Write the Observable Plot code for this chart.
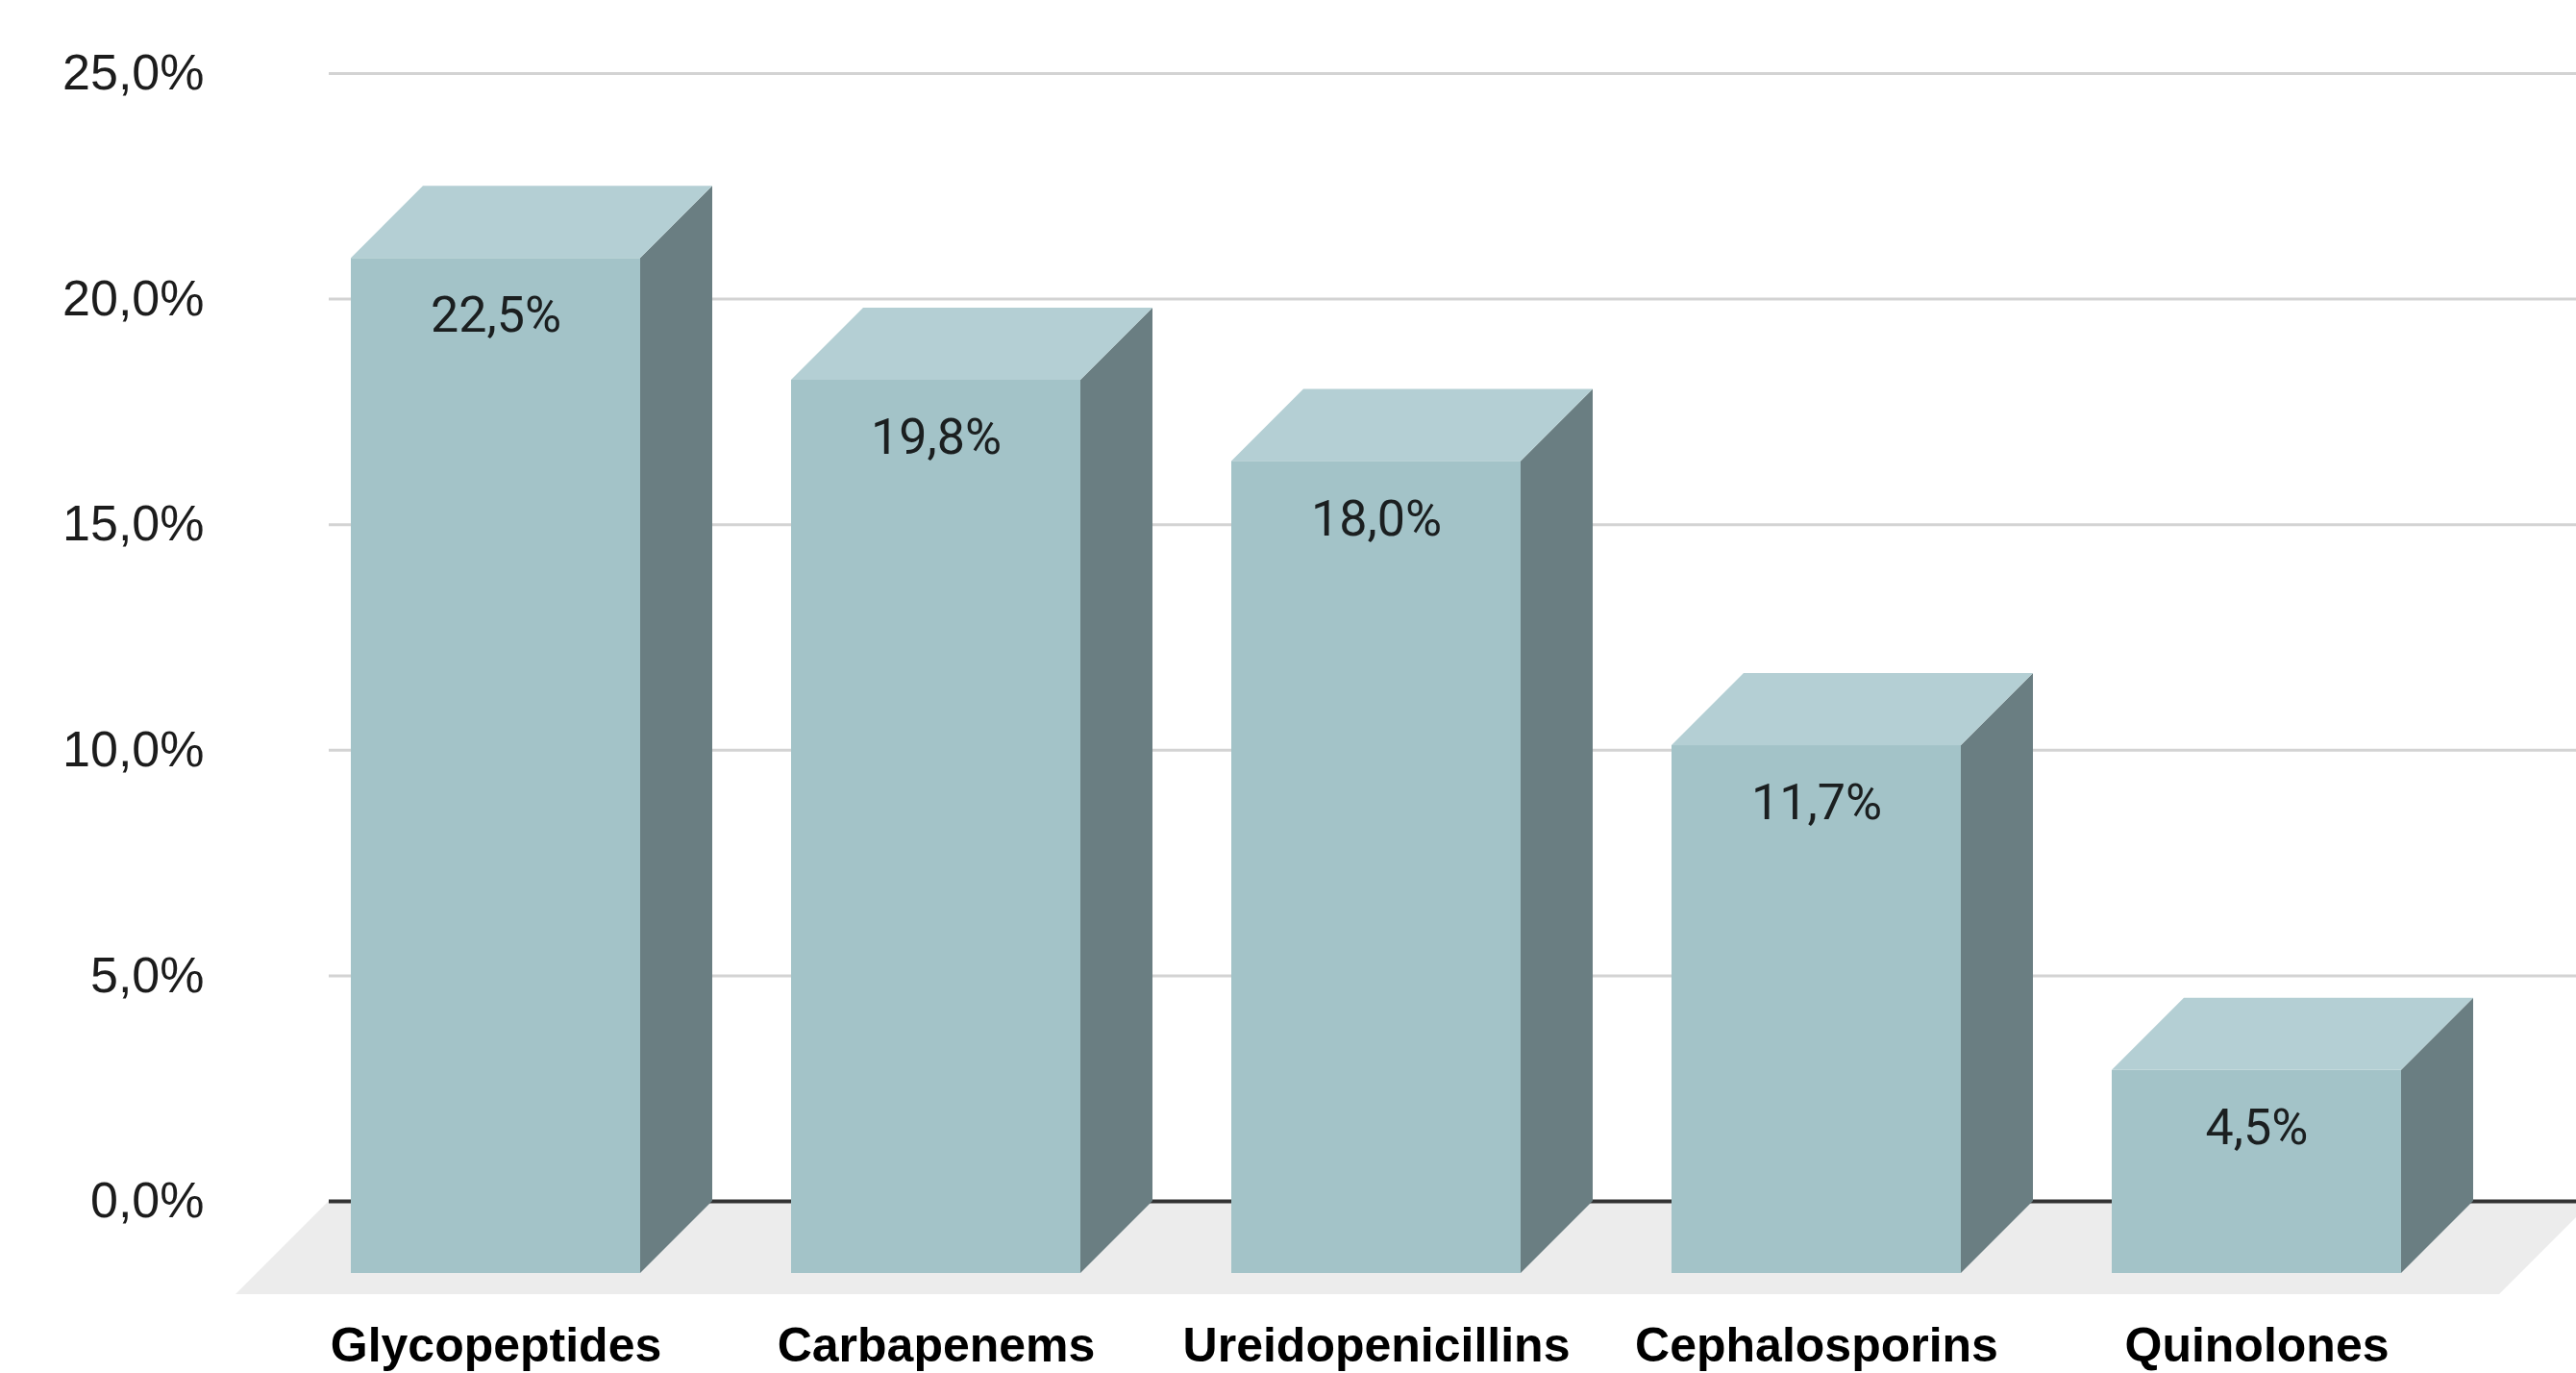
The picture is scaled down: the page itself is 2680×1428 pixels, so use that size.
<!DOCTYPE html>
<html>
<head>
<meta charset="utf-8">
<script src="https://cdn.jsdelivr.net/npm/d3@7"></script>
<script src="https://cdn.jsdelivr.net/npm/@observablehq/plot@0.6"></script>
<style>
  html, body { margin: 0; padding: 0; background: #ffffff; overflow: hidden; }
  #chart svg { display: block; }
</style>
</head>
<body>
<div id="chart"></div>
<script>
// ---- data ----
const categories = ["Glycopeptides", "Carbapenems", "Ureidopenicillins", "Cephalosporins", "Quinolones"];
const values = [22.5, 19.8, 18.0, 11.7, 4.5];
const yTicks = [0, 5, 10, 15, 20, 25];

const data = categories.map((c, i) => ({cat: c, value: values[i]}));
const fmt = v => v.toFixed(1).replace(".", ",") + "%";

// ---- style ----
const depth = 75;        // oblique depth of the 3D bars
const floorDepth = 97;   // depth of the floor plate
const frontColor = "#a3c3c8";
const topColor = "#b4cfd4";
const sideColor = "#6a7e82";
const floorColor = "#ececec";

function floor(index, scales, values, dimensions) {
  const {y} = scales;
  const {marginLeft, width} = dimensions;
  const yb = y(0);
  const xl = marginLeft, xr = width + 17;
  return d3.create("svg:path")
    .attr("d", `M${xl},${yb}L${xr},${yb}L${xr - floorDepth},${yb + floorDepth}L${xl - floorDepth},${yb + floorDepth}Z`)
    .attr("fill", floorColor)
    .node();
}

function faces(index, scales) {
  const {x, y} = scales;
  const g = d3.create("svg:g");
  const bw = x.bandwidth();
  for (const d of data) {
    const x0 = x(d.cat), x1 = x0 + bw, yt = y(d.value), yb = y(0);
    g.append("path")
      .attr("d", `M${x1},${yt}L${x1},${yb}L${x1 - depth},${yb + depth}L${x1 - depth},${yt + depth}Z`)
      .attr("fill", sideColor);
    g.append("path")
      .attr("d", `M${x0},${yt}L${x1},${yt}L${x1 - depth},${yt + depth}L${x0 - depth},${yt + depth}Z`)
      .attr("fill", topColor);
  }
  return g.node();
}

const chart = Plot.plot({
  width: 2680,
  height: 1428,
  marginLeft: 342,
  marginRight: 0,
  marginTop: 76,
  marginBottom: 179,
  style: {background: "#ffffff", overflow: "visible"},
  x: {type: "band", domain: categories, range: [280, 2732], padding: 0.343},
  y: {domain: [0, 25]},
  marks: [
    Plot.ruleY(yTicks.filter(t => t > 0), {stroke: "#d3d3d3", strokeWidth: 3}),
    floor,
    Plot.ruleY([0], {stroke: "#333333", strokeWidth: 4}),
    faces,
    Plot.barY(data, {x: "cat", y: "value", fill: frontColor, dx: -depth, dy: depth, inset: 0}),
    Plot.text(data, {
      x: "cat", y: "value", text: d => fmt(d.value),
      dx: -depth, dy: 135, lineAnchor: "middle",
      fontFamily: "Roboto", fontSize: 52, fill: "#1b1f20"
    }),
    Plot.axisY({
      ticks: yTicks, tickFormat: fmt, tickSize: 0, tickPadding: 130,
      fontFamily: "'Liberation Sans', Arial, sans-serif", fontSize: 52, fill: "#1c1c1c", label: null
    }),
    Plot.axisX({
      tickSize: 0, tickPadding: 131, dx: -depth,
      fontFamily: "'Liberation Sans', Arial, sans-serif", fontSize: 50, fontWeight: "bold", fill: "#000000", label: null
    })
  ]
});

document.getElementById("chart").appendChild(chart);
</script>
</body>
</html>
